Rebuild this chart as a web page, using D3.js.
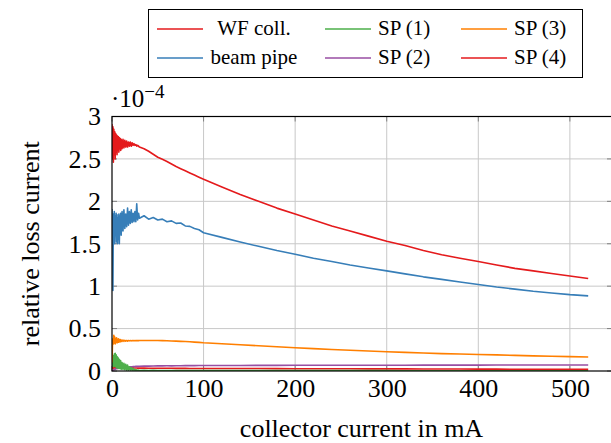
<!DOCTYPE html>
<html>
<head>
<meta charset="utf-8">
<script src="https://cdn.jsdelivr.net/npm/d3@7"></script>
<style>
  body { margin: 0; background: #fff; }
  svg { font-family: "Liberation Serif", "DejaVu Serif", serif; }
</style>
</head>
<body>
<svg id="chart"></svg>
<script>
// collector current (mA)
const xs = [0, 0.5, 1, 1.5, 2, 2.5, 3, 3.5, 4, 4.5, 5, 5.5, 6, 6.5, 7, 7.5, 8, 8.5, 9, 9.5, 10,
  11, 12, 13, 14, 15, 16, 17, 18, 19, 20, 21, 22, 23, 24, 25, 26, 27, 28, 29, 30,
  35, 40, 45, 50, 55, 60, 65, 70, 75, 80, 85, 90, 95, 100,
  120, 140, 160, 180, 200, 220, 240, 260, 280, 300, 320, 340, 360, 380, 400,
  420, 440, 460, 480, 500, 520];

// relative loss current, in units of 1e-4
const wfColl = [2.91, 2.5, 2.88, 2.46, 2.85, 2.55, 2.82, 2.5, 2.8, 2.58, 2.78, 2.55, 2.77, 2.6, 2.76, 2.58, 2.75, 2.62, 2.74, 2.6, 2.73,
  2.62, 2.73, 2.63, 2.72, 2.64, 2.71, 2.64, 2.7, 2.65, 2.7, 2.65, 2.69, 2.66, 2.68, 2.66, 2.67, 2.65, 2.66, 2.65, 2.64,
  2.62, 2.59, 2.555, 2.52, 2.495, 2.47, 2.44, 2.41, 2.385, 2.36, 2.335, 2.31, 2.285, 2.26,
  2.17, 2.08, 2.0, 1.92, 1.85, 1.78, 1.71, 1.65, 1.59, 1.53, 1.48, 1.42, 1.37, 1.33, 1.29,
  1.25, 1.21, 1.18, 1.15, 1.12, 1.09];
const beamPipe = [1.91, 1.6, 0.95, 1.85, 1.55, 1.88, 1.5, 1.83, 1.6, 1.86, 1.52, 1.84, 1.5, 1.8, 1.55, 1.85, 1.5, 1.82, 1.62, 1.86, 1.6,
  1.88, 1.65, 1.9, 1.68, 1.85, 1.7, 1.92, 1.72, 1.88, 1.74, 1.9, 1.75, 1.86, 1.76, 1.88, 1.76, 1.97, 1.78, 1.86, 1.8,
  1.83, 1.79, 1.81, 1.78, 1.79, 1.76, 1.77, 1.74, 1.745, 1.71, 1.705, 1.68, 1.665, 1.63,
  1.575, 1.52, 1.47, 1.42, 1.376, 1.33, 1.29, 1.25, 1.215, 1.18, 1.145, 1.11, 1.08, 1.05, 1.02,
  0.99, 0.965, 0.94, 0.92, 0.9, 0.886];
const sp1 = [0.05, 0.12, 0.06, 0.18, 0.05, 0.2, 0.06, 0.21, 0.05, 0.19, 0.04, 0.17, 0.04, 0.16, 0.03, 0.14, 0.03, 0.13, 0.03, 0.12, 0.02,
  0.1, 0.02, 0.09, 0.015, 0.08, 0.01, 0.07, 0.01, 0.05, 0.01, 0.04, 0.008, 0.03, 0.006, 0.02, 0.005, 0.015, 0.005, 0.01, 0.005,
  0.008, 0.004, 0.007, 0.004, 0.006, 0.004, 0.005, 0.004, 0.005, 0.004, 0.005, 0.004, 0.004, 0.004,
  0.004, 0.004, 0.004, 0.004, 0.004, 0.004, 0.004, 0.004, 0.004, 0.004, 0.003, 0.003, 0.003, 0.003, 0.003,
  0.003, 0.003, 0.003, 0.003, 0.003, 0.003];
const sp2 = [0.0, 0.005, 0.01, 0.012, 0.015, 0.017, 0.02, 0.022, 0.024, 0.026, 0.028, 0.03, 0.031, 0.032, 0.033, 0.034, 0.035, 0.036, 0.037, 0.038, 0.039,
  0.04, 0.041, 0.042, 0.043, 0.044, 0.045, 0.046, 0.047, 0.048, 0.049, 0.05, 0.051, 0.052, 0.052, 0.053, 0.054, 0.054, 0.055, 0.055, 0.056,
  0.057, 0.058, 0.059, 0.06, 0.06, 0.061, 0.061, 0.062, 0.062, 0.063, 0.063, 0.063, 0.064, 0.064,
  0.065, 0.065, 0.066, 0.066, 0.067, 0.067, 0.067, 0.068, 0.068, 0.068, 0.068, 0.069, 0.069, 0.069, 0.069,
  0.07, 0.07, 0.07, 0.07, 0.07, 0.07];
const sp3 = [0.1, 0.3, 0.38, 0.32, 0.42, 0.33, 0.4, 0.32, 0.38, 0.34, 0.39, 0.33, 0.37, 0.34, 0.38, 0.34, 0.37, 0.345, 0.37, 0.345, 0.365,
  0.35, 0.365, 0.35, 0.362, 0.352, 0.36, 0.352, 0.36, 0.355, 0.36, 0.355, 0.36, 0.356, 0.36, 0.357, 0.36, 0.358, 0.36, 0.358, 0.36,
  0.36, 0.36, 0.36, 0.359, 0.358, 0.356, 0.354, 0.352, 0.349, 0.347, 0.344, 0.34, 0.337, 0.333,
  0.322, 0.31, 0.298, 0.286, 0.274, 0.264, 0.254, 0.245, 0.236, 0.227, 0.219, 0.212, 0.205, 0.2, 0.195,
  0.19, 0.184, 0.178, 0.173, 0.169, 0.165];
const sp4 = [0.02, 0.11, 0.04, 0.09, 0.03, 0.1, 0.04, 0.08, 0.03, 0.07, 0.04, 0.08, 0.03, 0.06, 0.04, 0.06, 0.035, 0.05, 0.035, 0.05, 0.035,
  0.045, 0.035, 0.045, 0.035, 0.04, 0.035, 0.04, 0.035, 0.04, 0.035, 0.038, 0.035, 0.037, 0.035, 0.036, 0.035, 0.036, 0.034, 0.035, 0.034,
  0.034, 0.033, 0.033, 0.033, 0.032, 0.032, 0.032, 0.031, 0.031, 0.031, 0.03, 0.03, 0.03, 0.03,
  0.03, 0.029, 0.029, 0.028, 0.027, 0.027, 0.026, 0.026, 0.025, 0.025, 0.025, 0.024, 0.024, 0.023, 0.022,
  0.022, 0.021, 0.021, 0.02, 0.02, 0.02];

const seriesNames = ["WF coll.", "beam pipe", "SP (1)", "SP (2)", "SP (3)", "SP (4)"];
const seriesValues = [wfColl, beamPipe, sp1, sp2, sp3, sp4];
const seriesColors = ["#e41a1c", "#377eb8", "#4daf4a", "#984ea3", "#ff7f00", "#e41a1c"];

const xTicks = [0, 100, 200, 300, 400, 500];
const yTicks = [0, 0.5, 1, 1.5, 2, 2.5, 3];

const width = 611, height = 443;
const plot = { left: 112, right: 612, top: 116.5, bottom: 371 };

const svg = d3.select("#chart").attr("width", width).attr("height", height);

const x = d3.scaleLinear().domain([0, 546]).range([plot.left, plot.right]);
const y = d3.scaleLinear().domain([0, 3]).range([plot.bottom, plot.top]);

// grid
const grid = svg.append("g");
grid.selectAll("line.gx").data(xTicks.slice(1)).enter().append("line")
  .attr("x1", d => x(d)).attr("x2", d => x(d))
  .attr("y1", plot.top).attr("y2", plot.bottom)
  .attr("stroke", "#c8c8c8").attr("stroke-width", 1);
grid.selectAll("line.gy").data(yTicks.slice(1)).enter().append("line")
  .attr("x1", plot.left).attr("x2", plot.right)
  .attr("y1", d => y(d)).attr("y2", d => y(d))
  .attr("stroke", "#c8c8c8").attr("stroke-width", 1);

// inner tick marks on all four sides
const tl = 5;
const ticks = svg.append("g").attr("stroke", "#808080").attr("stroke-width", 1);
xTicks.forEach(t => {
  ticks.append("line").attr("x1", x(t)).attr("x2", x(t)).attr("y1", plot.bottom).attr("y2", plot.bottom - tl);
  ticks.append("line").attr("x1", x(t)).attr("x2", x(t)).attr("y1", plot.top).attr("y2", plot.top + tl);
});
yTicks.forEach(t => {
  ticks.append("line").attr("x1", plot.left).attr("x2", plot.left + tl).attr("y1", y(t)).attr("y2", y(t));
  ticks.append("line").attr("x1", plot.right).attr("x2", plot.right - tl).attr("y1", y(t)).attr("y2", y(t));
});

// series (bottom ones first, main curves on top)
const line = d3.line().x(d => x(d[0])).y(d => y(d[1]));
svg.append("defs").append("clipPath").attr("id", "clip")
  .append("rect").attr("x", plot.left).attr("y", plot.top)
  .attr("width", plot.right - plot.left).attr("height", plot.bottom - plot.top);
const lines = svg.append("g").attr("clip-path", "url(#clip)");
const drawOrder = [5, 3, 2, 4, 1, 0];
drawOrder.forEach(i => {
  lines.append("path")
    .datum(xs.map((xv, j) => [xv, seriesValues[i][j]]))
    .attr("fill", "none")
    .attr("stroke", seriesColors[i])
    .attr("stroke-width", 1.6)
    .attr("stroke-linejoin", "round")
    .attr("d", line);
});

// frame
svg.append("rect")
  .attr("x", plot.left).attr("y", plot.top)
  .attr("width", plot.right - plot.left).attr("height", plot.bottom - plot.top)
  .attr("fill", "none").attr("stroke", "#000").attr("stroke-width", 1.2);

// tick labels
const xAxis = svg.append("g")
  .attr("transform", `translate(0,${plot.bottom})`)
  .call(d3.axisBottom(x).tickValues(xTicks).tickSize(0).tickPadding(7.5).tickFormat(d3.format("d")));
xAxis.select(".domain").remove();
xAxis.selectAll("text").attr("font-family", "Liberation Serif").attr("font-size", 26).attr("fill", "#000");

const yAxis = svg.append("g")
  .attr("transform", `translate(${plot.left},0)`)
  .call(d3.axisLeft(y).tickValues(yTicks).tickSize(0).tickPadding(11).tickFormat(d => d));
yAxis.select(".domain").remove();
yAxis.selectAll("text").attr("font-family", "Liberation Serif").attr("font-size", 26).attr("fill", "#000");

// exponent label
const expo = svg.append("text").attr("x", 111).attr("y", 106.5)
  .attr("font-size", 25).attr("fill", "#000");
expo.append("tspan").text("·10");
expo.append("tspan").attr("dy", -9).attr("font-size", 19).text("−4");

// titles
svg.append("text")
  .attr("x", (plot.left + 611) / 2).attr("y", 437)
  .attr("text-anchor", "middle").attr("font-size", 26)
  .text("collector current in mA");
svg.append("text")
  .attr("transform", `translate(39,${(plot.top + plot.bottom) / 2}) rotate(-90)`)
  .attr("text-anchor", "middle").attr("font-size", 26)
  .text("relative loss current");

// legend
const legend = svg.append("g");
legend.append("rect").attr("x", 148.5).attr("y", 9.5).attr("width", 434).attr("height", 68)
  .attr("fill", "#fff").attr("stroke", "#000").attr("stroke-width", 1);
const legendOrder = [0, 2, 4, 1, 3, 5];
const colX = [157, 325, 461];
const rowY = [29, 58];
legendOrder.forEach((si, k) => {
  const col = k % 3, row = Math.floor(k / 3);
  const lx = colX[col], ly = rowY[row];
  legend.append("line").attr("x1", lx).attr("x2", lx + 46).attr("y1", ly).attr("y2", ly)
    .attr("stroke", seriesColors[si]).attr("stroke-width", 1.6);
  const t = legend.append("text").attr("y", ly + 6).attr("font-size", 21).attr("fill", "#000")
    .text(seriesNames[si]);
  if (col === 0) t.attr("x", 254).attr("text-anchor", "middle");
  else t.attr("x", lx + 53);
});
</script>
</body>
</html>
